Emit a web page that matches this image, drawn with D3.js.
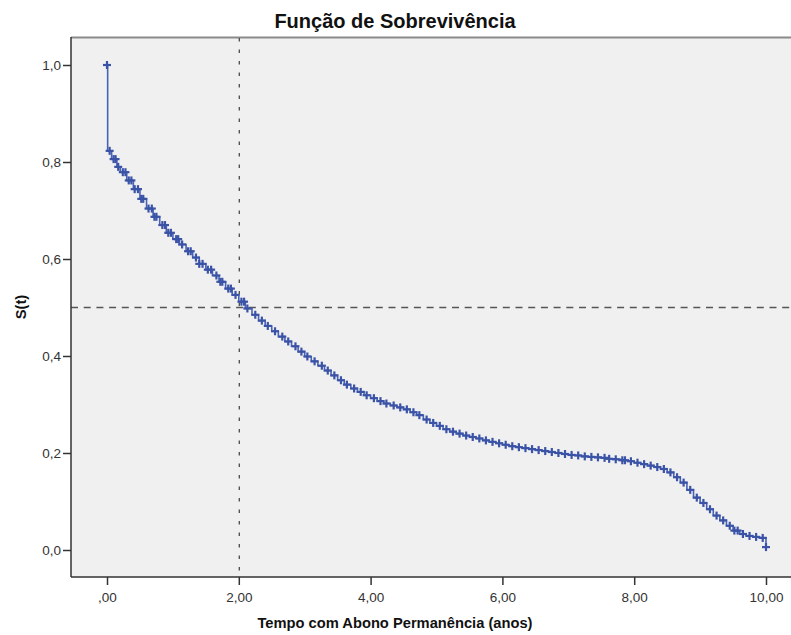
<!DOCTYPE html>
<html>
<head>
<meta charset="utf-8">
<script src="https://cdn.jsdelivr.net/npm/d3@7"></script>
<style>
  html, body { margin: 0; padding: 0; background: #ffffff; }
  svg { display: block; font-family: "Liberation Sans", Arial, sans-serif; }
</style>
</head>
<body>
<svg id="chart" width="791" height="635"></svg>
<script>
// Kaplan-Meier survival estimate: step times (years) and S(t) after each step
const stepTime = [
  0, 0.01, 0.07, 0.15, 0.20, 0.30, 0.40, 0.50, 0.60, 0.70, 0.80, 0.90,
  1.00, 1.10, 1.20, 1.30, 1.40, 1.50, 1.60, 1.70, 1.80, 1.90,
  2.00, 2.10, 2.20, 2.30, 2.40, 2.50, 2.60, 2.70, 2.80, 2.90,
  3.00, 3.10, 3.20, 3.30, 3.40, 3.50, 3.60, 3.70, 3.80, 3.90,
  4.00, 4.10, 4.20, 4.30, 4.40, 4.50, 4.60, 4.70, 4.80, 4.90,
  5.00, 5.10, 5.20, 5.30, 5.40, 5.50, 5.60, 5.70, 5.80, 5.90,
  6.00, 6.10, 6.20, 6.30, 6.40, 6.50, 6.60, 6.70, 6.80, 6.90,
  7.00, 7.10, 7.20, 7.30, 7.40, 7.50, 7.60, 7.70, 7.80, 7.90,
  8.00, 8.10, 8.20, 8.30, 8.40, 8.50, 8.60, 8.70, 8.80, 8.90,
  9.00, 9.10, 9.20, 9.30, 9.40, 9.50, 9.60, 9.70, 9.80, 9.90,
  10.00
];
const stepSurv = [
  1.000, 0.823, 0.806, 0.790, 0.779, 0.762, 0.744, 0.724, 0.704, 0.687, 0.670, 0.654,
  0.641, 0.630, 0.616, 0.603, 0.590, 0.578, 0.566, 0.553, 0.539, 0.526,
  0.512, 0.498, 0.485, 0.473, 0.462, 0.451, 0.440, 0.430, 0.420, 0.409,
  0.399, 0.389, 0.380, 0.370, 0.360, 0.350, 0.341, 0.333, 0.326, 0.319,
  0.313, 0.307, 0.302, 0.298, 0.294, 0.290, 0.284, 0.278, 0.269, 0.262,
  0.256, 0.249, 0.244, 0.240, 0.236, 0.233, 0.230, 0.226, 0.223, 0.220,
  0.217, 0.214, 0.212, 0.210, 0.208, 0.206, 0.204, 0.202, 0.200, 0.198,
  0.196, 0.195, 0.193, 0.192, 0.191, 0.190, 0.188, 0.187, 0.185, 0.183,
  0.180, 0.177, 0.174, 0.171, 0.167, 0.160, 0.150, 0.139, 0.124, 0.108,
  0.097, 0.084, 0.071, 0.061, 0.050, 0.040, 0.033, 0.029, 0.027, 0.025,
  0.006
];
// Censored observations (years)
const censorTime = [
  0, 0.04, 0.10, 0.13, 0.17, 0.24, 0.28, 0.33, 0.37, 0.42, 0.47, 0.52, 0.55, 0.63, 0.68, 0.72,
  0.75, 0.84, 0.88, 0.93, 0.97,
  1.05, 1.08, 1.14, 1.23, 1.27, 1.35, 1.40, 1.45, 1.53, 1.58, 1.66, 1.72, 1.75, 1.84, 1.88, 1.95,
  2.04, 2.08, 2.13, 2.25, 2.35, 2.44, 2.55, 2.66, 2.75, 2.86, 2.95,
  3.04, 3.15, 3.26, 3.35, 3.45, 3.55, 3.64, 3.75, 3.85, 3.94,
  4.05, 4.15, 4.24, 4.35, 4.45, 4.55, 4.65, 4.74, 4.85, 4.95,
  5.05, 5.15, 5.25, 5.35, 5.45, 5.55, 5.65, 5.75, 5.85, 5.95,
  6.05, 6.15, 6.25, 6.35, 6.45, 6.55, 6.65, 6.75, 6.85, 6.95,
  7.05, 7.15, 7.25, 7.35, 7.45, 7.55, 7.62, 7.72, 7.82, 7.86, 7.95,
  8.05, 8.15, 8.25, 8.35, 8.45, 8.55, 8.65, 8.75, 8.85, 8.95,
  9.05, 9.15, 9.25, 9.35, 9.45, 9.52, 9.57, 9.65, 9.75, 9.85, 9.95,
  10.00
];
const xTicks = [0, 2, 4, 6, 8, 10];
const xTickLabels = [",00", "2,00", "4,00", "6,00", "8,00", "10,00"];
const yTicks = [0, 0.2, 0.4, 0.6, 0.8, 1.0];
const yTickLabels = ["0,0", "0,2", "0,4", "0,6", "0,8", "1,0"];
const medianTime = 2.0;
const medianSurv = 0.5;

const svg = d3.select("#chart");
const frame = { left: 71, top: 37, right: 791, bottom: 577 };

const x = d3.scaleLinear().domain([0, 10]).range([107, 766]);
const y = d3.scaleLinear().domain([0, 1]).range([550, 65]);

// plot background
svg.append("rect")
  .attr("x", frame.left).attr("y", frame.top)
  .attr("width", frame.right - frame.left).attr("height", frame.bottom - frame.top)
  .attr("fill", "#f0f0f0");

// top border
svg.append("line")
  .attr("x1", frame.left).attr("x2", frame.right)
  .attr("y1", frame.top + 0.5).attr("y2", frame.top + 0.5)
  .attr("stroke", "#8a8a8a").attr("stroke-width", 2);

// reference lines at the median
svg.append("line")
  .attr("x1", x(medianTime) + 0.5).attr("x2", x(medianTime) + 0.5)
  .attr("y1", frame.top + 1).attr("y2", frame.bottom)
  .attr("stroke", "#4a4a4a").attr("stroke-width", 1.3)
  .attr("stroke-dasharray", "3.5,8");
svg.append("line")
  .attr("x1", frame.left).attr("x2", frame.right)
  .attr("y1", y(medianSurv)).attr("y2", y(medianSurv))
  .attr("stroke", "#555555").attr("stroke-width", 1.5)
  .attr("stroke-dasharray", "7,5.7");

// survival step curve
const pts = stepTime.map((t, i) => [t, stepSurv[i]]);
const line = d3.line().x(d => x(d[0])).y(d => y(d[1])).curve(d3.curveStepAfter);
svg.append("path")
  .attr("d", line(pts))
  .attr("fill", "none")
  .attr("stroke", "#4862b6")
  .attr("stroke-width", 1.6);

// censor marks
function survAt(t) {
  let s = stepSurv[0];
  for (let i = 0; i < stepTime.length; i++) {
    if (stepTime[i] <= t + 1e-9) s = stepSurv[i]; else break;
  }
  return s;
}
const arm = 4;
const marks = svg.append("g").attr("stroke", "#3a53a6").attr("stroke-width", 2.2);
censorTime.forEach(t => {
  const cx = x(t), cy = y(survAt(t));
  marks.append("line").attr("x1", cx - arm).attr("x2", cx + arm).attr("y1", cy).attr("y2", cy);
  marks.append("line").attr("x1", cx).attr("x2", cx).attr("y1", cy - arm).attr("y2", cy + arm);
});

// axes
const xAxis = d3.axisBottom(x).tickValues(xTicks)
  .tickFormat((d, i) => xTickLabels[i]).tickSize(8).tickSizeOuter(0);
const gx = svg.append("g").attr("transform", `translate(0,${frame.bottom})`).call(xAxis);
gx.select(".domain").remove();
gx.selectAll(".tick line").attr("stroke", "#333").attr("stroke-width", 1.5);
gx.selectAll(".tick text").attr("fill", "#333").attr("font-size", 13.5)
  .attr("font-family", "Liberation Sans, Arial, sans-serif").attr("y", 12).attr("dy", "0.95em");

const yAxis = d3.axisLeft(y).tickValues(yTicks)
  .tickFormat((d, i) => yTickLabels[i]).tickSize(8).tickSizeOuter(0);
const gy = svg.append("g").attr("transform", `translate(${frame.left},0)`).call(yAxis);
gy.select(".domain").remove();
gy.selectAll(".tick line").attr("stroke", "#333").attr("stroke-width", 1.5);
gy.selectAll(".tick text").attr("fill", "#333").attr("font-size", 13.5)
  .attr("font-family", "Liberation Sans, Arial, sans-serif").attr("x", -10);

// frame axis lines
svg.append("line")
  .attr("x1", frame.left).attr("x2", frame.right)
  .attr("y1", frame.bottom).attr("y2", frame.bottom)
  .attr("stroke", "#333").attr("stroke-width", 1.5);
svg.append("line")
  .attr("x1", frame.left).attr("x2", frame.left)
  .attr("y1", frame.top).attr("y2", frame.bottom)
  .attr("stroke", "#333").attr("stroke-width", 1.5);

// titles
svg.append("text")
  .attr("x", 395).attr("y", 28)
  .attr("text-anchor", "middle")
  .attr("font-size", 20).attr("font-weight", "bold").attr("fill", "#111")
  .text("Função de Sobrevivência");
svg.append("text")
  .attr("x", 395).attr("y", 628)
  .attr("text-anchor", "middle")
  .attr("font-size", 14.7).attr("font-weight", "bold").attr("fill", "#111")
  .text("Tempo com Abono Permanência (anos)");
svg.append("text")
  .attr("transform", "translate(26,307) rotate(-90)")
  .attr("text-anchor", "middle")
  .attr("font-size", 14.7).attr("font-weight", "bold").attr("fill", "#111")
  .text("S(t)");
</script>
</body>
</html>
